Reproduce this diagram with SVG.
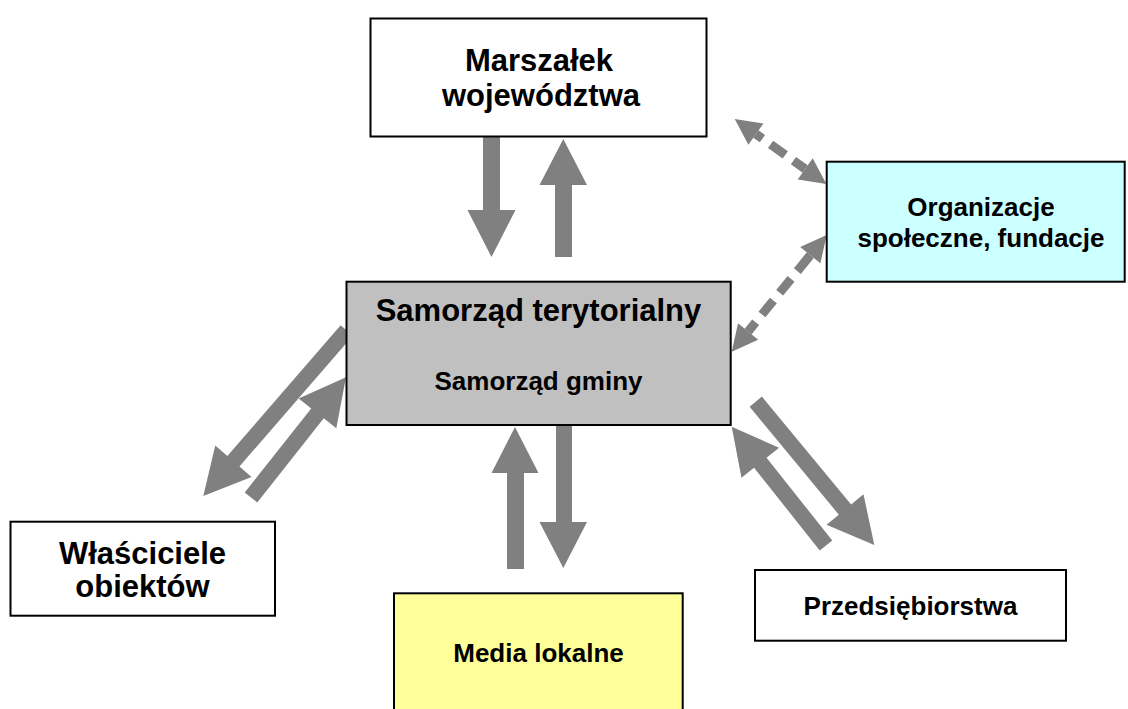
<svg xmlns="http://www.w3.org/2000/svg" width="1128" height="709" viewBox="0 0 1128 709">
<style>
.box{stroke:#000;stroke-width:2}
.t{font-family:"Liberation Sans",Arial,sans-serif;font-weight:bold;fill:#000;text-anchor:middle}
.big{font-size:31px}
.mid{font-size:26px}
.arr{fill:#808080;stroke:none}
.dash{stroke:#808080;stroke-width:9;fill:none}
</style>
<rect width="1128" height="709" fill="#fff"/>
<g id="connectors">
<polygon class="arr" points="483,137 500,137 500,210 515.5,210 491.5,257 467.5,210 483,210"/>
<polygon class="arr" points="555,257 572,257 572,185 587,185 563.3,139 539.5,185 555,185"/>
<polygon class="arr" points="507,569 524,569 524,473 538.5,473 515,427 491.5,473 507,473"/>
<polygon class="arr" points="556,425 572,425 572,522 587,522 563.3,568 539.5,522 556,522"/>
<polygon class="arr" points="340.65,325.26 227.35,455.96 215.26,445.48 203.3,496 251.54,476.92 239.45,466.44 352.75,335.74"/>
<polygon class="arr" points="257.28,502.46 323.76,418.35 336.31,428.27 346,377.3 298.65,398.51 311.2,408.43 244.72,492.54"/>
<polygon class="arr" points="749.64,406.8 838.82,514.65 826.49,524.85 874.3,545 863.47,494.25 851.14,504.45 761.96,396.6"/>
<polygon class="arr" points="832.26,540.53 766.55,457.75 779.08,447.8 731.7,426.7 741.5,477.64 754.03,467.69 819.74,550.47"/>
<line class="dash" x1="755.91" y1="134.04" x2="805.19" y2="168.96" stroke-dasharray="8 10 18 10 20"/>
<polygon class="arr" points="734.7,119 748.39,144.65 763.43,123.43"/>
<polygon class="arr" points="826.4,184 797.67,179.57 812.71,158.35"/>
<line class="dash" x1="748.11" y1="331.54" x2="810.29" y2="255.16" stroke-dasharray="12 10 18 10 18 10 22"/>
<polygon class="arr" points="731.7,351.7 758.19,339.75 738.03,323.33"/>
<polygon class="arr" points="826.7,235 820.37,263.37 800.21,246.95"/>
</g>
<g id="marszalek">
<rect class="box" x="370.5" y="18.5" width="336" height="118" fill="#fff"/>
<text class="t big" x="539" y="71">Marszałek</text>
<text class="t big" x="541" y="106">województwa</text>
</g>
<g id="organizacje">
<rect class="box" x="826.7" y="161.7" width="298" height="120" fill="#CCFFFF"/>
<text class="t mid" x="981" y="216">Organizacje</text>
<text class="t mid" x="981" y="246.5">społeczne, fundacje</text>
</g>
<g id="samorzad">
<rect class="box" x="346.5" y="281.7" width="384.2" height="143.3" fill="#C0C0C0"/>
<text class="t big" x="538.5" y="320.7">Samorząd terytorialny</text>
<text class="t mid" x="538.5" y="390">Samorząd gminy</text>
</g>
<g id="wlasciciele">
<rect class="box" x="10.5" y="521.7" width="264.5" height="94" fill="#fff"/>
<text class="t big" x="142.5" y="564">Właściciele</text>
<text class="t big" x="142.5" y="597">obiektów</text>
</g>
<g id="media">
<rect class="box" x="394" y="593.3" width="288.7" height="130" fill="#FFFF99"/>
<text class="t mid" x="538.5" y="661.7">Media lokalne</text>
</g>
<g id="przedsiebiorstwa">
<rect class="box" x="755" y="570" width="311" height="70.7" fill="#fff"/>
<text class="t mid" x="910.5" y="615">Przedsiębiorstwa</text>
</g>
</svg>
